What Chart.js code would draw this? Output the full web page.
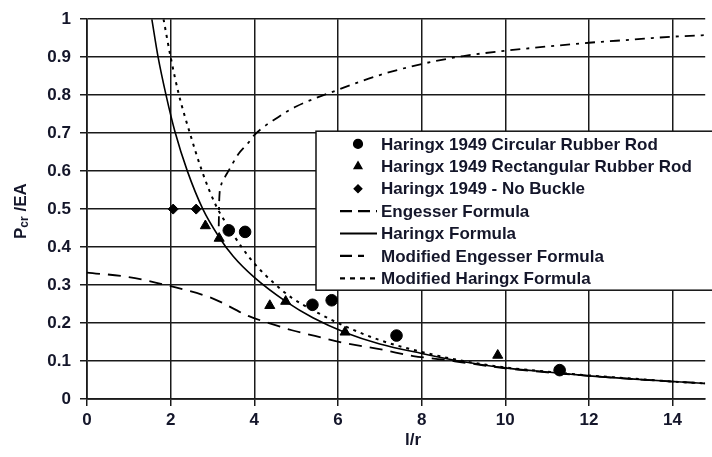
<!DOCTYPE html>
<html>
<head>
<meta charset="utf-8">
<script src="https://cdn.jsdelivr.net/npm/chart.js@4.4.1/dist/chart.umd.min.js"></script>
<style>
  html, body { margin: 0; padding: 0; background: #fff; }
  #wrap { width: 712px; height: 457px; }
</style>
</head>
<body>
<div id="wrap"><canvas id="chart" width="712" height="457"></canvas></div>
<script>
// Haringx 1949 test data
const circularX = [3.39, 3.78, 5.39, 5.85, 7.40, 11.3];
const circularY = [0.444, 0.44, 0.248, 0.26, 0.167, 0.076];
const rectangularX = [2.83, 3.16, 4.37, 4.75, 6.17, 9.82];
const rectangularY = [0.456, 0.423, 0.246, 0.257, 0.176, 0.115];
const noBuckleX = [2.06, 2.61];
const noBuckleY = [0.5, 0.5];

// formula curves
const engesserX = [0, 1, 2, 3, 3.87, 4.35, 4.9, 5.45, 5.92, 7.1, 7.8, 8.5, 9, 10, 11, 12, 13, 14, 14.78];
const engesserY = [0.333, 0.321, 0.297, 0.265, 0.218, 0.2, 0.181, 0.166, 0.153, 0.129, 0.113, 0.104, 0.096, 0.081, 0.07, 0.061, 0.053, 0.046, 0.041];

const haringxX = [1.55, 1.7, 1.89, 2.1, 2.4, 2.77, 3.16, 3.5, 4.0, 4.75, 5.4, 6.2, 7, 8, 9, 10, 11, 12, 13, 14, 14.78];
const haringxY = [1.0, 0.9, 0.8, 0.705, 0.6, 0.5, 0.426, 0.375, 0.32, 0.257, 0.214, 0.174, 0.145, 0.12, 0.098, 0.082, 0.071, 0.061, 0.053, 0.046, 0.041];

const modEngesserX = [3.15, 3.16, 3.2, 3.3, 3.38, 3.62, 3.86, 4.0, 4.57, 5, 6, 7, 8, 9, 10, 11, 12, 13, 14, 14.78];
const modEngesserY = [0.455, 0.52, 0.56, 0.585, 0.6, 0.645, 0.675, 0.695, 0.742, 0.77, 0.814, 0.853, 0.882, 0.903, 0.917, 0.928, 0.938, 0.946, 0.954, 0.958];

const modHaringxX = [1.83, 2.0, 2.2, 2.46, 2.75, 3.08, 3.4, 3.71, 4.03, 4.47, 4.9, 5.45, 6, 7, 8, 9, 10, 11, 12, 13, 14, 14.78];
const modHaringxY = [1.0, 0.9, 0.8, 0.7, 0.6, 0.51, 0.45, 0.398, 0.353, 0.305, 0.266, 0.231, 0.2, 0.155, 0.124, 0.1, 0.083, 0.072, 0.062, 0.054, 0.046, 0.041];

const xTicks = [0, 2, 4, 6, 8, 10, 12, 14];
const yTicks = [0, 0.1, 0.2, 0.3, 0.4, 0.5, 0.6, 0.7, 0.8, 0.9, 1];

const INK = '#14162a';
const FONT = '"Liberation Sans", Arial, sans-serif';

function pairs(xs, ys) {
    return xs.map((x, i) => ({ x: x, y: ys[i] }));
}

function markerSet(label, xs, ys, style, radius) {
    return {
        label: label,
        data: pairs(xs, ys),
        showLine: false,
        pointStyle: style,
        pointRadius: radius,
        pointHoverRadius: radius,
        pointBackgroundColor: '#000',
        pointBorderColor: '#000',
        pointBorderWidth: 1,
        legendRadius: radius * 0.75
    };
}

function curveSet(label, xs, ys, dash, legendDash, width) {
    return {
        label: label,
        data: pairs(xs, ys),
        showLine: true,
        borderColor: '#000',
        borderWidth: width,
        borderDash: dash,
        legendDash: legendDash,
        pointRadius: 0,
        pointHoverRadius: 0,
        cubicInterpolationMode: 'monotone',
        fill: false
    };
}

const datasets = [
    markerSet('Haringx 1949 Circular Rubber Rod', circularX, circularY, 'circle', 5.8),
    markerSet('Haringx 1949 Rectangular Rubber Rod', rectangularX, rectangularY, 'triangle', 5.8),
    markerSet('Haringx 1949 - No Buckle', noBuckleX, noBuckleY, 'rectRot', 5),
    curveSet('Engesser Formula', engesserX, engesserY, [13, 8], [12, 6], 1.8),
    curveSet('Haringx Formula', haringxX, haringxY, [], [], 1.6),
    curveSet('Modified Engesser Formula', modEngesserX, modEngesserY, [10, 6, 3, 6], [12, 6, 6, 20], 1.8),
    curveSet('Modified Haringx Formula', modHaringxX, modHaringxY, [3, 5], [5, 5], 2)
];

// boxed legend inside the plot + axis titles
const boxLegend = {
    id: 'boxLegend',
    afterDraw(chart) {
        const ctx = chart.ctx;
        const area = chart.chartArea;
        const left = area.left + 229;
        const top = area.top + 112;
        const rowH = 22.4;
        ctx.save();
        ctx.fillStyle = '#fff';
        ctx.strokeStyle = '#111';
        ctx.lineWidth = 1.5;
        ctx.fillRect(left, top, 420, 159);
        ctx.strokeRect(left, top, 420, 159);

        chart.data.datasets.forEach((ds, i) => {
            const y = top + 12.7 + i * rowH;
            if (ds.showLine) {
                ctx.save();
                ctx.strokeStyle = '#000';
                ctx.lineWidth = 2.2;
                ctx.setLineDash(ds.legendDash);
                ctx.beginPath();
                ctx.moveTo(left + 24, y);
                ctx.lineTo(left + 61, y);
                ctx.stroke();
                ctx.restore();
            } else {
                ctx.fillStyle = '#000';
                ctx.strokeStyle = '#000';
                Chart.helpers.drawPoint(ctx, {
                    pointStyle: ds.pointStyle,
                    radius: ds.legendRadius,
                    rotation: 0,
                    borderWidth: 1
                }, left + 42, y);
            }
            ctx.fillStyle = INK;
            ctx.font = 'bold 17px ' + FONT;
            ctx.textAlign = 'left';
            ctx.textBaseline = 'middle';
            ctx.fillText(ds.label, left + 65, y + 1);
        });

        // y title with subscript
        ctx.save();
        ctx.translate(21, (area.top + area.bottom) / 2 + 2);
        ctx.rotate(-Math.PI / 2);
        ctx.fillStyle = INK;
        ctx.textBaseline = 'middle';
        ctx.textAlign = 'left';
        const big = 'bold 17px ' + FONT;
        const small = 'bold 12px ' + FONT;
        ctx.font = big;
        const wP = ctx.measureText('P').width;
        const wRest = ctx.measureText(' /EA').width;
        ctx.font = small;
        const wSub = ctx.measureText('cr').width;
        let x0 = -(wP + wSub + wRest) / 2;
        ctx.font = big;
        ctx.fillText('P', x0, 0);
        ctx.font = small;
        ctx.fillText('cr', x0 + wP, 4);
        ctx.font = big;
        ctx.fillText(' /EA', x0 + wP + wSub, 0);
        ctx.restore();

        // x title
        ctx.fillStyle = INK;
        ctx.font = 'bold 17px ' + FONT;
        ctx.textAlign = 'center';
        ctx.textBaseline = 'middle';
        ctx.fillText('l/r', area.left + 326, area.bottom + 41);
        ctx.restore();
    }
};

new Chart(document.getElementById('chart'), {
    type: 'scatter',
    data: { datasets: datasets },
    options: {
        responsive: false,
        animation: false,
        events: [],
        layout: { padding: { top: 16, left: 0, right: 0, bottom: 0 } },
        plugins: {
            legend: { display: false },
            tooltip: { enabled: false }
        },
        scales: {
            x: {
                type: 'linear',
                min: 0,
                max: 14.78,
                afterFit: s => { s.height = 58; },
                afterBuildTicks: s => { s.ticks = xTicks.map(v => ({ value: v })); },
                ticks: {
                    includeBounds: false,
                    color: INK,
                    font: { family: FONT, size: 17, weight: 'bold' },
                    padding: 4,
                    maxRotation: 0
                },
                grid: { color: '#1a1a1a', lineWidth: 1.5, tickLength: 7, tickColor: '#1a1a1a' },
                border: { color: '#1a1a1a', width: 1.7 }
            },
            y: {
                type: 'linear',
                min: 0,
                max: 1,
                afterFit: s => { s.width = 87; },
                afterBuildTicks: s => { s.ticks = yTicks.map(v => ({ value: v })); },
                ticks: {
                    color: INK,
                    font: { family: FONT, size: 17, weight: 'bold' },
                    padding: 9,
                    callback: v => String(Math.round(v * 10) / 10)
                },
                grid: { color: '#1a1a1a', lineWidth: 1.5, tickLength: 7, tickColor: '#1a1a1a' },
                border: { color: '#1a1a1a', width: 1.7 }
            }
        }
    },
    plugins: [boxLegend]
});
</script>
</body>
</html>
